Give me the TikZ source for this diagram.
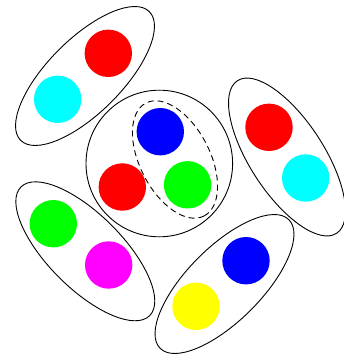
\documentclass[tikz,border=0pt]{standalone}
\usepackage{xcolor}
\usepackage{tikz}
\usetikzlibrary{shapes.geometric}

\definecolor{dotred}{rgb}{1,0,0}
\definecolor{dotgreen}{rgb}{0,1,0}
\definecolor{dotblue}{rgb}{0,0,1}
\definecolor{dotcyan}{rgb}{0,1,1}
\definecolor{dotmagenta}{rgb}{1,0,1}
\definecolor{dotyellow}{rgb}{1,1,0}

\begin{document}
\begin{tikzpicture}[
  x=1pt, y=-1pt,
  dot/.style={circle, fill=#1, draw=none, inner sep=0pt, minimum size=47.4pt},
  setbox/.style={ellipse, draw=black, line width=0.9pt, inner sep=0pt,
                 minimum width=182pt, minimum height=74pt},
  pairbox/.style={ellipse, draw=black, dash pattern=on 6pt off 4pt, line width=0.9pt,
                  inner sep=0pt, minimum width=127pt, minimum height=70pt},
  corebox/.style={circle, draw=black, line width=0.9pt, inner sep=0pt,
                  minimum size=146.6pt}
]
\useasboundingbox (0,0) rectangle (344,358);
% ----- outer sets -----
\node[setbox, rotate=45]  (tlset) at (85,76)      {};
\node[setbox, rotate=-57] (rset)  at (287,157)    {};
\node[setbox, rotate=-45] (blset) at (85.3,251.3) {};
\node[setbox, rotate=45]  (brset) at (224.5,284)  {};
% ----- central set with dashed pair -----
\node[corebox]               (core) at (159.3,163.5) {};
\node[pairbox, rotate=-62.8] (pair) at (175,159.5)   {};
% ----- dots -----
\node[dot=dotred]     (tlred)   at (108.3,53.3)  {};
\node[dot=dotcyan]    (tlcyan)  at (57.7,99.3)   {};
\node[dot=dotred]     (rred)    at (269,127.3)   {};
\node[dot=dotcyan]    (rcyan)   at (305.7,178)   {};
\node[dot=dotgreen]   (blgreen) at (53.3,223.7)  {};
\node[dot=dotmagenta] (blmag)   at (108.7,265)   {};
\node[dot=dotblue]    (brblue)  at (246,260.7)   {};
\node[dot=dotyellow]  (bryel)   at (196,306.3)   {};
\node[dot=dotblue]    (cblue)   at (160.3,131.7) {};
\node[dot=dotred]     (cred)    at (122.3,187)   {};
\node[dot=dotgreen]   (cgreen)  at (187.6,184.8) {};
\end{tikzpicture}
\end{document}
